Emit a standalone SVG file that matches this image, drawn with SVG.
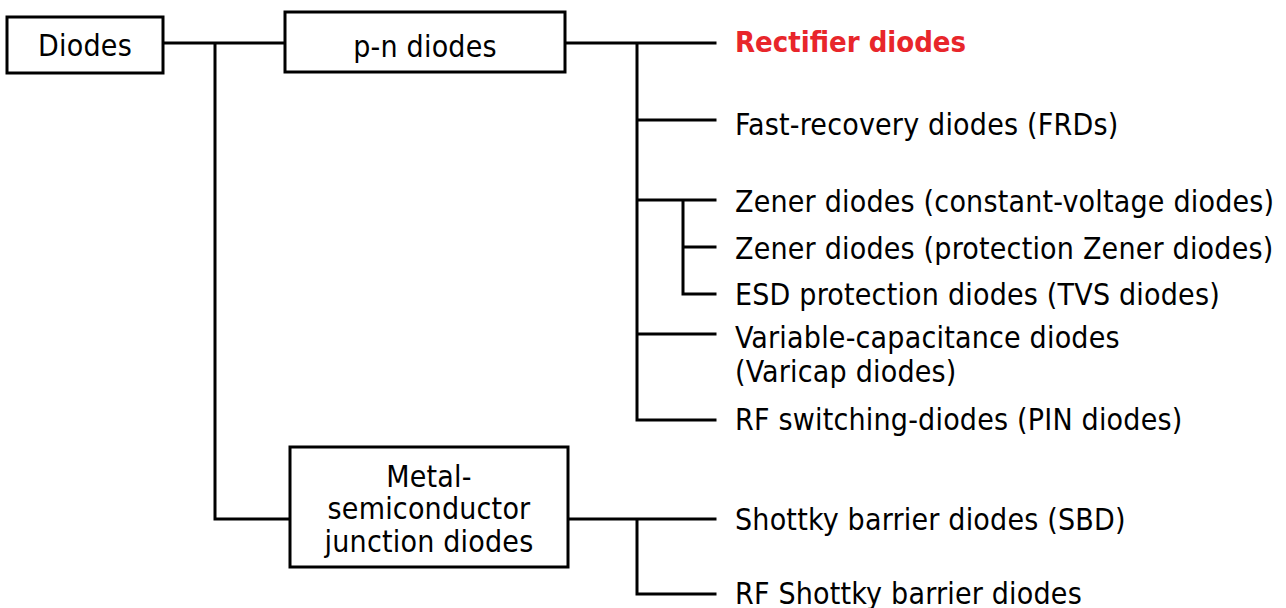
<svg xmlns="http://www.w3.org/2000/svg" width="1286" height="608" viewBox="0 0 1286 608">
<style>
.box{fill:#fff;stroke:#000;stroke-width:3}
.ln{stroke:#000;stroke-width:3;fill:none;stroke-linecap:square}
text{font-family:"DejaVu Sans Condensed","DejaVu Sans",sans-serif;font-stretch:condensed;font-size:30px;letter-spacing:0.2px;fill:#000;dominant-baseline:central}
.c{text-anchor:middle}
.red{fill:#e8262b;font-weight:bold;font-size:29px;letter-spacing:0}
</style>
<rect width="1286" height="608" fill="#fff"/>
<g id="connectors">
<path class="ln" d="M163 43H285M215 43V519H290"/>
<path class="ln" d="M565 43H715M637 43V420H715M637 120H715M637 200H715M683 200V294H715M683 247H715M637 334H715"/>
<path class="ln" d="M568 519H715M637 519V594H715"/>
</g>
<g id="diodes"><rect class="box" x="7" y="17" width="156" height="56"/><text class="c" x="85" y="45">Diodes</text></g>
<g id="pn"><rect class="box" x="285" y="12" width="280" height="60"/><text class="c" x="425" y="46">p-n diodes</text></g>
<g id="ms"><rect class="box" x="290" y="447" width="278" height="120"/><text class="c" x="429" y="476">Metal-</text><text class="c" x="429" y="508">semiconductor</text><text class="c" x="429" y="541">junction diodes</text></g>
<g id="rect"><text class="red" x="735" y="42">Rectifier diodes</text></g>
<g id="frd"><text x="735" y="124">Fast-recovery diodes (FRDs)</text></g>
<g id="zener1"><text x="735" y="201">Zener diodes (constant-voltage diodes)</text></g>
<g id="zener2"><text x="735" y="248">Zener diodes (protection Zener diodes)</text></g>
<g id="esd"><text x="735" y="294">ESD protection diodes (TVS diodes)</text></g>
<g id="varicap"><text x="735" y="337">Variable-capacitance diodes</text><text x="735" y="371">(Varicap diodes)</text></g>
<g id="pin"><text x="735" y="419">RF switching-diodes (PIN diodes)</text></g>
<g id="sbd"><text x="735" y="519">Shottky barrier diodes (SBD)</text></g>
<g id="rfsbd"><text x="735" y="593">RF Shottky barrier diodes</text></g>
</svg>
